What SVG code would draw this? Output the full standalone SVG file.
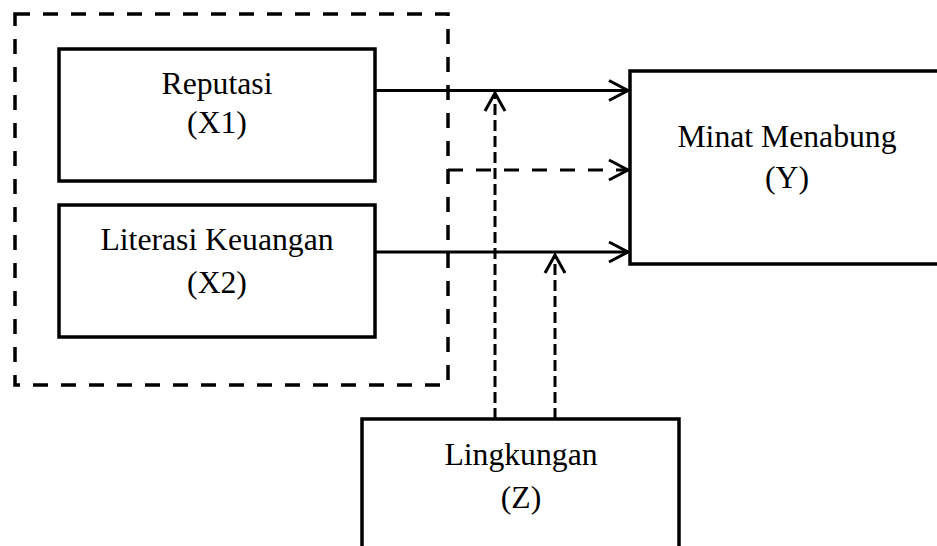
<svg xmlns="http://www.w3.org/2000/svg" width="937" height="546" viewBox="0 0 937 546">
<style>
.box{fill:#fff;stroke:#000;stroke-width:3.5}
.grp{fill:none;stroke:#000;stroke-width:3.5;stroke-dasharray:15 13}
.t{font-family:"Liberation Serif","Times New Roman",serif;font-size:31.7px;fill:#000;text-anchor:middle}
.line{fill:none;stroke:#000;stroke-width:3}
.dl{fill:none;stroke:#000;stroke-width:3.2;stroke-dasharray:15 13}
.ds{fill:none;stroke:#000;stroke-width:3;stroke-dasharray:11 5}
.head{fill:none;stroke:#000;stroke-width:3}
</style>
<rect width="937" height="546" fill="#fff"/>
<g id="group-x">
<rect class="grp" x="15" y="14" width="433" height="371"/>
</g>
<g id="node-x1">
<rect class="box" x="59" y="49" width="316" height="132"/>
<text class="t" x="217" y="94">Reputasi</text>
<text class="t" x="217" y="133">(X1)</text>
</g>
<g id="node-x2">
<rect class="box" x="59" y="205" width="316" height="132"/>
<text class="t" x="217" y="250">Literasi Keuangan</text>
<text class="t" x="217" y="293">(X2)</text>
</g>
<g id="node-y">
<rect class="box" x="630" y="71" width="320" height="193"/>
<text class="t" x="787" y="147">Minat Menabung</text>
<text class="t" x="787" y="188">(Y)</text>
</g>
<g id="node-z">
<rect class="box" x="362" y="419" width="317" height="140"/>
<text class="t" x="521" y="465">Lingkungan</text>
<text class="t" x="521" y="508">(Z)</text>
</g>
<g id="connectors">
<path class="line" d="M375 90.5 H628"/>
<path class="head" d="M609 80.5 L628 90.5 L609 100.5"/>
<path class="line" d="M375 252 H628"/>
<path class="head" d="M609 242 L628 252 L609 262"/>
<path class="dl" d="M448 170 H628"/>
<path class="head" d="M609 160 L628 170 L609 180"/>
<path class="ds" d="M495 419 V94"/>
<path class="head" d="M485 111 L495 93 L505 111"/>
<path class="ds" d="M555 419 V255"/>
<path class="head" d="M545 273 L555 255 L565 273"/>
</g>
</svg>
